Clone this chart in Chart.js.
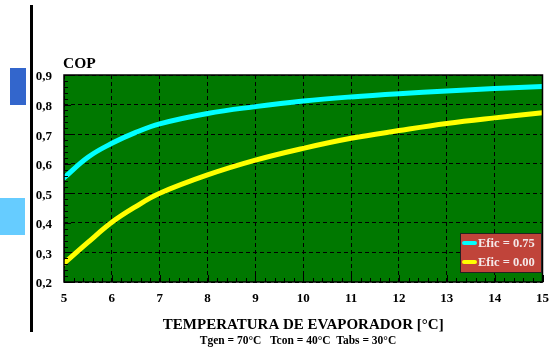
<!DOCTYPE html>
<html>
<head>
<meta charset="utf-8">
<script src="https://cdn.jsdelivr.net/npm/chart.js@4"></script>
<style>
  html, body { margin: 0; padding: 0; background: #fff; }
  #wrap { position: relative; width: 558px; height: 351px; }
  #myChart { position: absolute; left: 0; top: 0; }
  .deco { position: absolute; }
</style>
</head>
<body>
<div id="wrap">
  <div class="deco" style="left:30px;top:5px;width:3px;height:327px;background:#000"></div>
  <div class="deco" style="left:10px;top:68px;width:16px;height:37px;background:#3366cc"></div>
  <div class="deco" style="left:0px;top:198px;width:25px;height:37px;background:#66ccff"></div>
  <canvas id="myChart" width="558" height="351"></canvas>
</div>
<script>
// evaporator temperature [°C]
let temps = [5, 5.5, 6, 6.5, 7, 8, 9, 10, 11, 12, 13, 14, 15];
// COP curves
let cop075 = [0.552, 0.622, 0.669, 0.706, 0.735, 0.77, 0.793, 0.812, 0.826, 0.837, 0.846, 0.854, 0.861];
let cop000 = [0.263, 0.334, 0.402, 0.455, 0.5, 0.562, 0.612, 0.652, 0.686, 0.712, 0.736, 0.755, 0.772];
let seriesLabels = ['Efic = 0.75', 'Efic = 0.00'];
let seriesColors = ['#00ffff', '#ffff00'];
let conditions = 'Tgen = 70°C   Tcon = 40°C  Tabs = 30°C';

let serif = "'Liberation Serif', 'DejaVu Serif', serif";

function points(ys) {
    return temps.map((t, i) => ({x: t, y: ys[i]}));
}

// green plot area, frame, inner ticks, COP label, conditions and legend
let decor = {
    id: 'decor',
    beforeDraw(chart) {
        let a = chart.chartArea, c = chart.ctx;
        c.save();
        c.fillStyle = '#007800';
        c.fillRect(a.left, a.top, a.right - a.left, a.bottom - a.top);
        c.restore();
    },
    afterDraw(chart) {
        let a = chart.chartArea, c = chart.ctx;
        let xs = chart.scales.x, ys = chart.scales.y;
        c.save();
        c.strokeStyle = '#000';
        c.lineWidth = 1;
        c.beginPath();
        for (let i = 0; i <= 50; i++) {
            let px = Math.round(xs.getPixelForValue(5 + i * 0.2)) + 0.5;
            let len = i % 5 === 0 ? 7 : 4;
            c.moveTo(px, a.bottom);
            c.lineTo(px, a.bottom - len);
        }
        for (let i = 0; i <= 35; i++) {
            let py = Math.round(ys.getPixelForValue(0.2 + i * 0.02)) + 0.5;
            let len = i % 5 === 0 ? 7 : 4;
            c.moveTo(a.left, py);
            c.lineTo(a.left + len, py);
        }
        c.stroke();
        c.lineWidth = 1.5;
        c.strokeRect(a.left, a.top, a.right - a.left, a.bottom - a.top);

        c.fillStyle = '#000';
        c.textBaseline = 'middle';
        c.font = "bold 15.5px " + serif;
        c.textAlign = 'left';
        c.fillText('COP', 63, 64);

        c.font = "bold 11.5px " + serif;
        c.textAlign = 'center';
        c.fillText(conditions, 298, 341);

        // legend
        let lx = 460, ly = 233, lw = 81, lh = 39;
        c.fillStyle = '#c0443a';
        c.fillRect(lx, ly, lw, lh);
        c.strokeStyle = '#222';
        c.lineWidth = 1;
        c.strokeRect(lx + 0.5, ly + 0.5, lw, lh);
        c.font = "bold 12.5px " + serif;
        c.textAlign = 'left';
        chart.data.datasets.forEach((ds, i) => {
            let yy = ly + 10 + i * 19;
            c.strokeStyle = ds.borderColor;
            c.lineWidth = 4;
            c.lineCap = 'round';
            c.beginPath();
            c.moveTo(464, yy);
            c.lineTo(475, yy);
            c.stroke();
            c.fillStyle = '#f4e8e8';
            c.fillText(ds.label, 478, yy + 1);
        });
        c.restore();
    }
};

let ctx = document.getElementById('myChart').getContext('2d');
let chart = new Chart(ctx, {
    type: 'line',
    data: {
        datasets: [{
            label: seriesLabels[0],
            data: points(cop075),
            borderColor: seriesColors[0],
            backgroundColor: seriesColors[0],
            borderWidth: 5,
            borderCapStyle: 'round',
            tension: 0.4,
            pointRadius: 0
        }, {
            label: seriesLabels[1],
            data: points(cop000),
            borderColor: seriesColors[1],
            backgroundColor: seriesColors[1],
            borderWidth: 5,
            borderCapStyle: 'round',
            tension: 0.4,
            pointRadius: 0
        }]
    },
    options: {
        responsive: false,
        animation: false,
        layout: {padding: {left: 0, top: 75, right: 7, bottom: 0}},
        plugins: {
            legend: {display: false},
            tooltip: {enabled: false}
        },
        scales: {
            x: {
                type: 'linear',
                min: 5,
                max: 15,
                afterFit(scale) { scale.height = 69; },
                ticks: {
                    stepSize: 1,
                    padding: 9,
                    color: '#000',
                    font: {family: serif, size: 13, weight: 'bold'}
                },
                grid: {color: '#000', drawTicks: false, lineWidth: 1},
                border: {display: false, dash: [4, 3]},
                title: {
                    display: true,
                    text: 'TEMPERATURA DE EVAPORADOR [°C]',
                    color: '#000',
                    font: {family: serif, size: 15, weight: 'bold', lineHeight: 1.2},
                    padding: {top: 0, bottom: 17}
                }
            },
            y: {
                min: 0.2,
                max: 0.9,
                afterFit(scale) { scale.width = 64; },
                ticks: {
                    stepSize: 0.1,
                    padding: 12,
                    labelOffset: 2,
                    color: '#000',
                    font: {family: serif, size: 13, weight: 'bold'},
                    callback: v => v.toFixed(1).replace('.', ',')
                },
                grid: {color: '#000', drawTicks: false, lineWidth: 1},
                border: {display: false, dash: [4, 3]}
            }
        }
    },
    plugins: [decor]
});
</script>
</body>
</html>
